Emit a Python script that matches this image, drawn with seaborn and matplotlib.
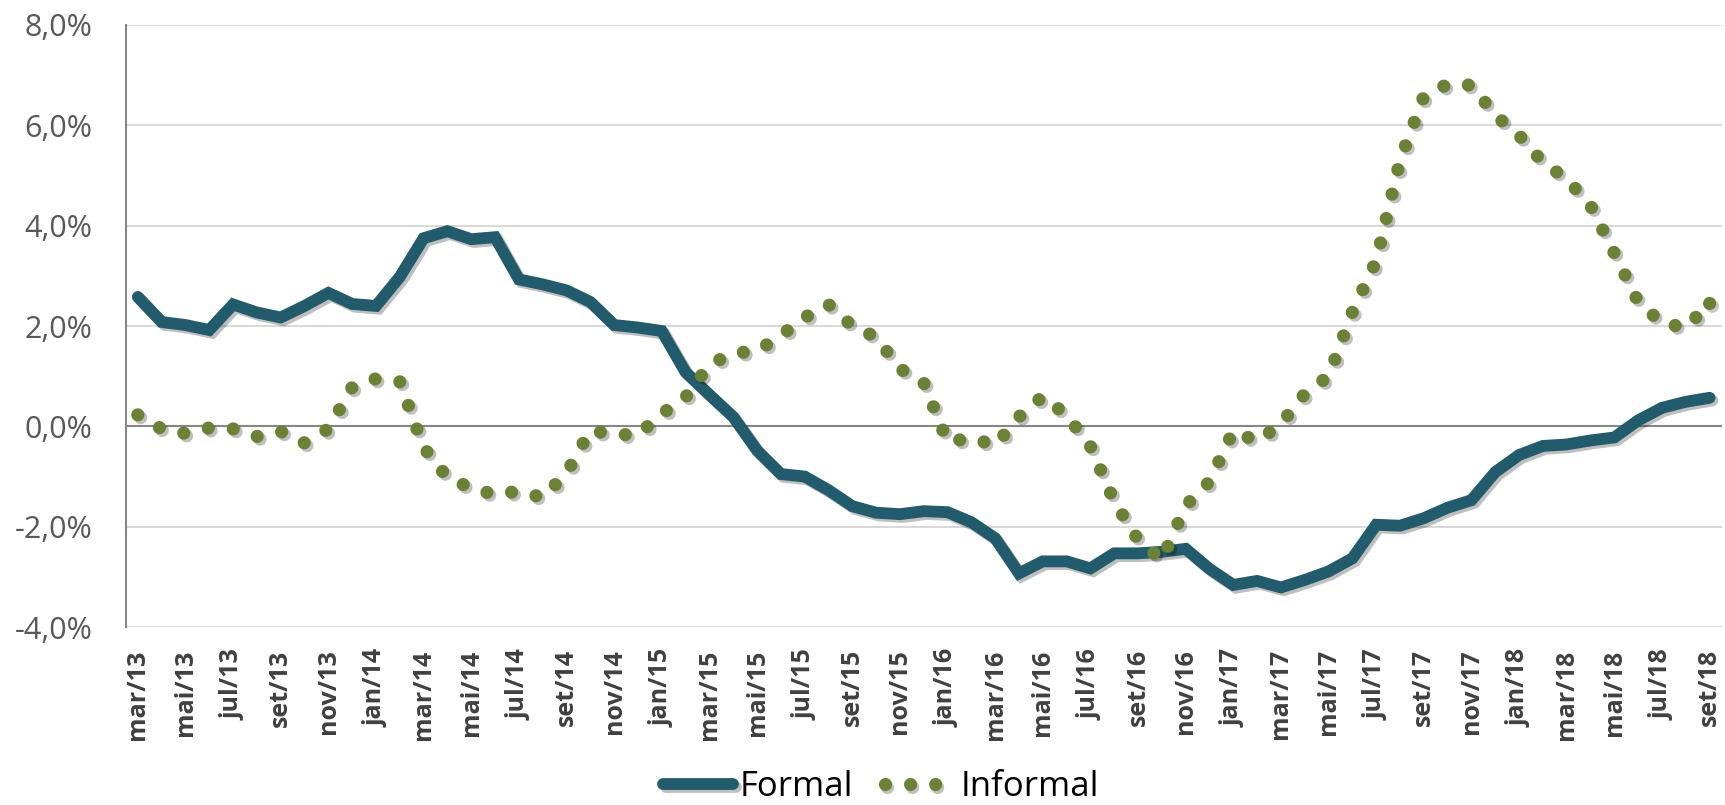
import numpy as np
import pandas as pd
import matplotlib
matplotlib.use('Agg')
import matplotlib.pyplot as plt
import matplotlib.patheffects as pe
import seaborn as sns

# DATA: monthly series, mar/13 .. set/18 (% change)
month_abbr = ['jan', 'fev', 'mar', 'abr', 'mai', 'jun', 'jul', 'ago', 'set', 'out', 'nov', 'dez']
months = [f"{month_abbr[m]}/{y % 100:02d}" for y in range(2013, 2019) for m in range(12)]
months = months[2:2 + 67]

formal = [2.58, 2.08, 2.02, 1.92, 2.43, 2.27, 2.17, 2.40, 2.66, 2.44, 2.40,
          2.98, 3.75, 3.89, 3.73, 3.77, 2.93, 2.83, 2.71, 2.48, 2.02, 1.97, 1.90,
          1.08, 0.63, 0.19, -0.48, -0.95, -1.00, -1.27, -1.59, -1.72, -1.75, -1.69, -1.71,
          -1.91, -2.23, -2.93, -2.69, -2.69, -2.83, -2.53, -2.53, -2.50, -2.44, -2.84, -3.16,
          -3.08, -3.21, -3.06, -2.89, -2.63, -1.96, -1.98, -1.83, -1.62, -1.47, -0.91, -0.57,
          -0.39, -0.36, -0.28, -0.22, 0.12, 0.37, 0.49, 0.57]

informal = [0.23, -0.05, -0.14, -0.03, -0.05, -0.20, -0.10, -0.33, -0.05, 0.78, 0.95, 0.89,
            -0.42, -1.02, -1.23, -1.36, -1.29, -1.42, -0.93, -0.08, -0.16, -0.17, 0.25, 0.58,
            1.23, 1.46, 1.50, 1.81, 2.17, 2.43, 2.00, 1.78, 1.15, 0.87, -0.31, -0.23,
            -0.38, 0.19, 0.60, 0.22, -0.40, -1.50, -2.26, -2.66, -1.58, -1.10, -0.09, -0.30,
            0.05, 0.65, 1.00, 2.28, 3.30, 5.30, 6.58, 6.82, 6.80, 6.20, 5.80, 5.26,
            4.93, 4.40, 3.45, 2.48, 2.06, 1.97, 2.45]

yticks = [-4, -2, 0, 2, 4, 6, 8]

df = pd.DataFrame({'pos': np.arange(len(months)), 'mes': months,
                   'Formal': formal, 'Informal': informal})

sns.set_style('white')
plt.rcParams['font.family'] = ['Open Sans', 'DejaVu Sans']

fig = plt.figure(figsize=(17.25, 8.05), dpi=100)
ax = fig.add_axes([0.073, 0.221, 0.925, 0.748])

shadow = [pe.SimpleLineShadow(offset=(2, -2), shadow_color='black', alpha=0.25), pe.Normal()]

sns.lineplot(data=df, x='pos', y='Formal', ax=ax, color='#225B6B', linewidth=8.5,
             solid_capstyle='round', solid_joinstyle='miter', label='Formal',
             path_effects=shadow, zorder=3)
sns.lineplot(data=df, x='pos', y='Informal', ax=ax, color='#6B8136', linewidth=9.5,
             linestyle=(0, (0.001, 1.9)), dash_capstyle='round', label='Informal',
             path_effects=shadow, zorder=4)
# closing dot on the last month of the dotted series
sns.scatterplot(data=df.iloc[[-1]], x='pos', y='Informal', ax=ax, color='#6B8136',
                s=90, linewidth=0, legend=False, zorder=4,
                path_effects=[pe.SimplePatchShadow(offset=(2, -2), alpha=0.25), pe.Normal()])

# axes styling
ax.set_xlim(-0.5, len(months) - 0.5)
ax.set_ylim(-4, 8)
ax.set_yticks(yticks)
ax.set_yticklabels([f"{v:.1f}%".replace('.', ',') for v in yticks],
                   fontsize=22, color='#595959')
ax.set_xticks(df['pos'][::2])
ax.set_xticklabels(df['mes'][::2], rotation=90, fontsize=18, fontweight='bold', color='#404040')
ax.tick_params(axis='y', length=0, pad=24)
ax.tick_params(axis='x', length=0, pad=16)
ax.set_xlabel('')
ax.set_ylabel('')

ax.grid(axis='y', color='#D9D9D9', linewidth=1.5)
ax.grid(axis='x', visible=False)
ax.axhline(0, color='#868686', linewidth=1.5, zorder=2)
for side in ['top', 'right', 'bottom']:
    ax.spines[side].set_visible(False)
ax.spines['left'].set_color('#868686')
ax.spines['left'].set_linewidth(1.5)

leg = ax.legend(loc='center', bbox_to_anchor=(0.511, 0.022), bbox_transform=fig.transFigure,
                ncol=2, frameon=False, fontsize=25, handlelength=2.0, handletextpad=0.2,
                columnspacing=0.9)
for t in leg.get_texts():
    t.set_color('black')

fig.savefig('out.png', dpi=100)
